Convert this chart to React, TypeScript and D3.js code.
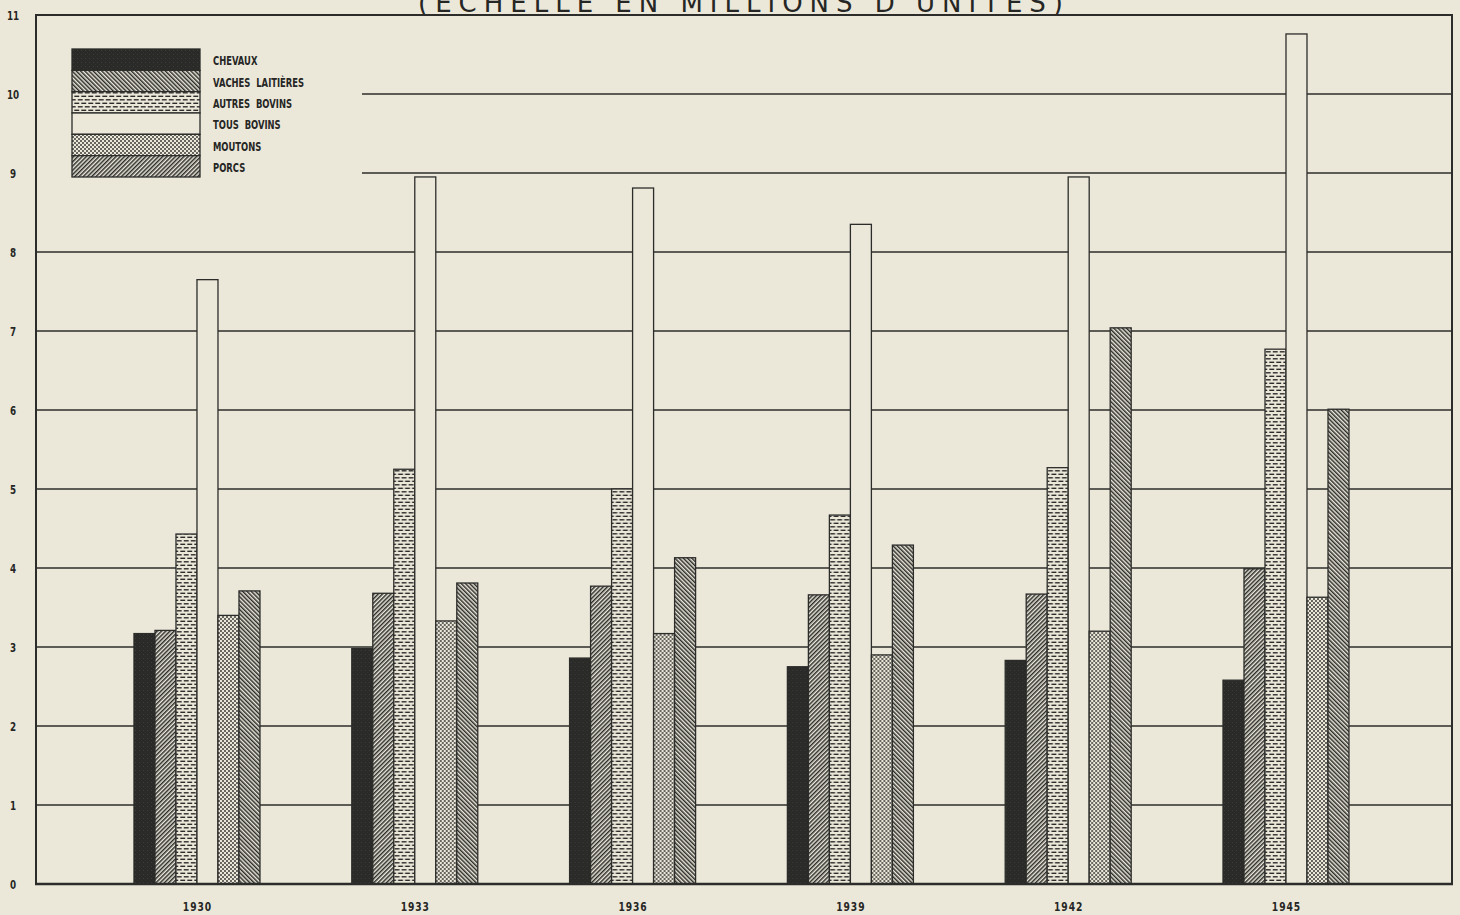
import * as d3 from "d3"

// Cheptel sur les fermes, 1930-45 (millions d'unités)
const years = ["1930", "1933", "1936", "1939", "1942", "1945"]
const series = ["CHEVAUX", "VACHES LAITIÈRES", "AUTRES BOVINS", "TOUS BOVINS", "MOUTONS", "PORCS"]

const chevaux = [3.17, 2.98, 2.86, 2.75, 2.83, 2.58]
const vachesLaitieres = [3.21, 3.68, 3.77, 3.66, 3.67, 3.99]
const autresBovins = [4.43, 5.25, 5.0, 4.67, 5.27, 6.77]
const tousBovins = [7.65, 8.95, 8.81, 8.35, 8.95, 10.76]
const moutons = [3.4, 3.33, 3.17, 2.9, 3.2, 3.63]
const porcs = [3.71, 3.81, 4.13, 4.29, 7.04, 6.01]

const yTicks = [0, 1, 2, 3, 4, 5, 6, 7, 8, 9, 10, 11]
const title = "(ÉCHELLE EN MILLIONS D'UNITÉS)"

const values = [chevaux, vachesLaitieres, autresBovins, tousBovins, moutons, porcs]

const W = 1460
const H = 915
const BG = "#ebe8da"
const INK = "#2c2c2a"
const FONT = "'DejaVu Sans Condensed', 'Liberation Sans Narrow', sans-serif"

// fills for bars (hatch directions differ from legend, as in the original)
const barFill = ["url(#dark)", "url(#hatchUp)", "url(#brick)", BG, "url(#dots)", "url(#hatchDown)"]
const legendFill = ["url(#dark)", "url(#hatchDown)", "url(#brick)", BG, "url(#dots)", "url(#hatchUp)"]

// narrow lettering like the stencil of the original
function Label({ x, y, children, anchor = "start", size = 12, sx = 0.8 }: any) {
  return (
    <text
      transform={`translate(${x},${y}) scale(${sx},1)`}
      textAnchor={anchor}
      fontFamily={FONT}
      fontWeight="bold"
      fontSize={size}
      fill="#262624"
    >
      {children}
    </text>
  )
}

export default function App() {
  const left = 36
  const right = 1452
  const top = 15
  const bottom = 884

  const y = d3.scaleLinear().domain([0, 11]).range([bottom, top])

  const x = d3
    .scaleBand()
    .domain(years)
    .range([left, right])
    .paddingInner(0.4215)
    .paddingOuter(0.4614)
    .align(0.4875)

  const xs = d3.scaleBand().domain(series).range([0, x.bandwidth()])

  // legend box
  const lg = { x: 72, y: 49, w: 128, h: 128 }
  const rowH = lg.h / series.length

  return (
    <svg
      width={W}
      height={H}
      style={{ position: "absolute", left: 0, top: 0, background: BG }}
    >
      <defs>
        <pattern id="dark" width="4" height="4" patternUnits="userSpaceOnUse">
          <rect width="4" height="4" fill="#2a2a28" />
          <rect x="1" y="2" width="0.8" height="0.8" fill="#484844" />
          <rect x="3" y="0" width="0.6" height="0.6" fill="#3c3c38" />
        </pattern>
        <pattern id="hatchUp" width="3" height="3" patternUnits="userSpaceOnUse" patternTransform="rotate(45)">
          <rect width="3" height="3" fill={BG} />
          <line x1="0.75" y1="0" x2="0.75" y2="3" stroke={INK} strokeWidth="1.5" />
        </pattern>
        <pattern id="hatchDown" width="3" height="3" patternUnits="userSpaceOnUse" patternTransform="rotate(-45)">
          <rect width="3" height="3" fill={BG} />
          <line x1="0.75" y1="0" x2="0.75" y2="3" stroke={INK} strokeWidth="1.5" />
        </pattern>
        <pattern id="brick" width="7" height="7" patternUnits="userSpaceOnUse">
          <rect width="7" height="7" fill={BG} />
          <line x1="0.8" y1="1.8" x2="5.7" y2="1.8" stroke={INK} strokeWidth="1.4" />
          <line x1="4.3" y1="5.3" x2="9.2" y2="5.3" stroke={INK} strokeWidth="1.4" />
          <line x1="-2.7" y1="5.3" x2="2.2" y2="5.3" stroke={INK} strokeWidth="1.4" />
        </pattern>
        <pattern id="dots" width="4" height="4" patternUnits="userSpaceOnUse">
          <rect width="4" height="4" fill={BG} />
          <circle cx="1" cy="1" r="0.95" fill={INK} />
          <circle cx="3" cy="3" r="0.95" fill={INK} />
        </pattern>
      </defs>

      <rect width={W} height={H} fill={BG} />

      {/* title, cut by the top of the page as in the scan */}
      <text
        x={418}
        y={12}
        textLength={645}
        lengthAdjust="spacing"
        fontFamily="'DejaVu Sans', sans-serif"
        fontSize={26}
        fill="#262624"
      >
        {title}
      </text>

      {/* grid */}
      {yTicks
        .filter((v) => v > 0 && v < 11)
        .map((v) => (
          <line
            key={v}
            x1={v >= 9 ? 362 : left}
            x2={right}
            y1={y(v)}
            y2={y(v)}
            stroke={INK}
            strokeWidth={1.4}
          />
        ))}

      {/* frame */}
      <line x1={left - 1} x2={right + 1} y1={top} y2={top} stroke={INK} strokeWidth={2.2} />
      <line x1={left} x2={left} y1={top} y2={bottom} stroke={INK} strokeWidth={2} />
      <line x1={right} x2={right} y1={top} y2={bottom} stroke={INK} strokeWidth={2} />

      {/* bars */}
      {years.map((yr, i) => (
        <g key={yr} transform={`translate(${x(yr)},0)`}>
          {series.map((s, j) => (
            <rect
              key={s}
              x={xs(s)}
              y={y(values[j][i])}
              width={xs.bandwidth()}
              height={bottom - y(values[j][i])}
              fill={barFill[j]}
              stroke={INK}
              strokeWidth={1.3}
            />
          ))}
          <Label x={x.bandwidth() / 2} y={911} anchor="middle" size={12} sx={0.85}>
            {yr.split("").join("\u200A")}
          </Label>
        </g>
      ))}

      <line x1={left - 1} x2={right + 1} y1={bottom} y2={bottom} stroke={INK} strokeWidth={2.4} />

      {/* y labels */}
      {yTicks.map((v) => (
        <Label key={v} x={13} y={y(v) + 5} anchor="middle" size={13} sx={0.75}>
          {v}
        </Label>
      ))}

      {/* legend */}
      {series.map((s, j) => (
        <g key={s}>
          <rect
            x={lg.x}
            y={lg.y + j * rowH}
            width={lg.w}
            height={rowH}
            fill={legendFill[j]}
            stroke={INK}
            strokeWidth={1.3}
          />
          <Label x={213} y={lg.y + j * rowH + rowH / 2 + 5.5} size={12} sx={0.78}>
            {s.replace(" ", "\u00A0\u00A0")}
          </Label>
        </g>
      ))}
    </svg>
  )
}
